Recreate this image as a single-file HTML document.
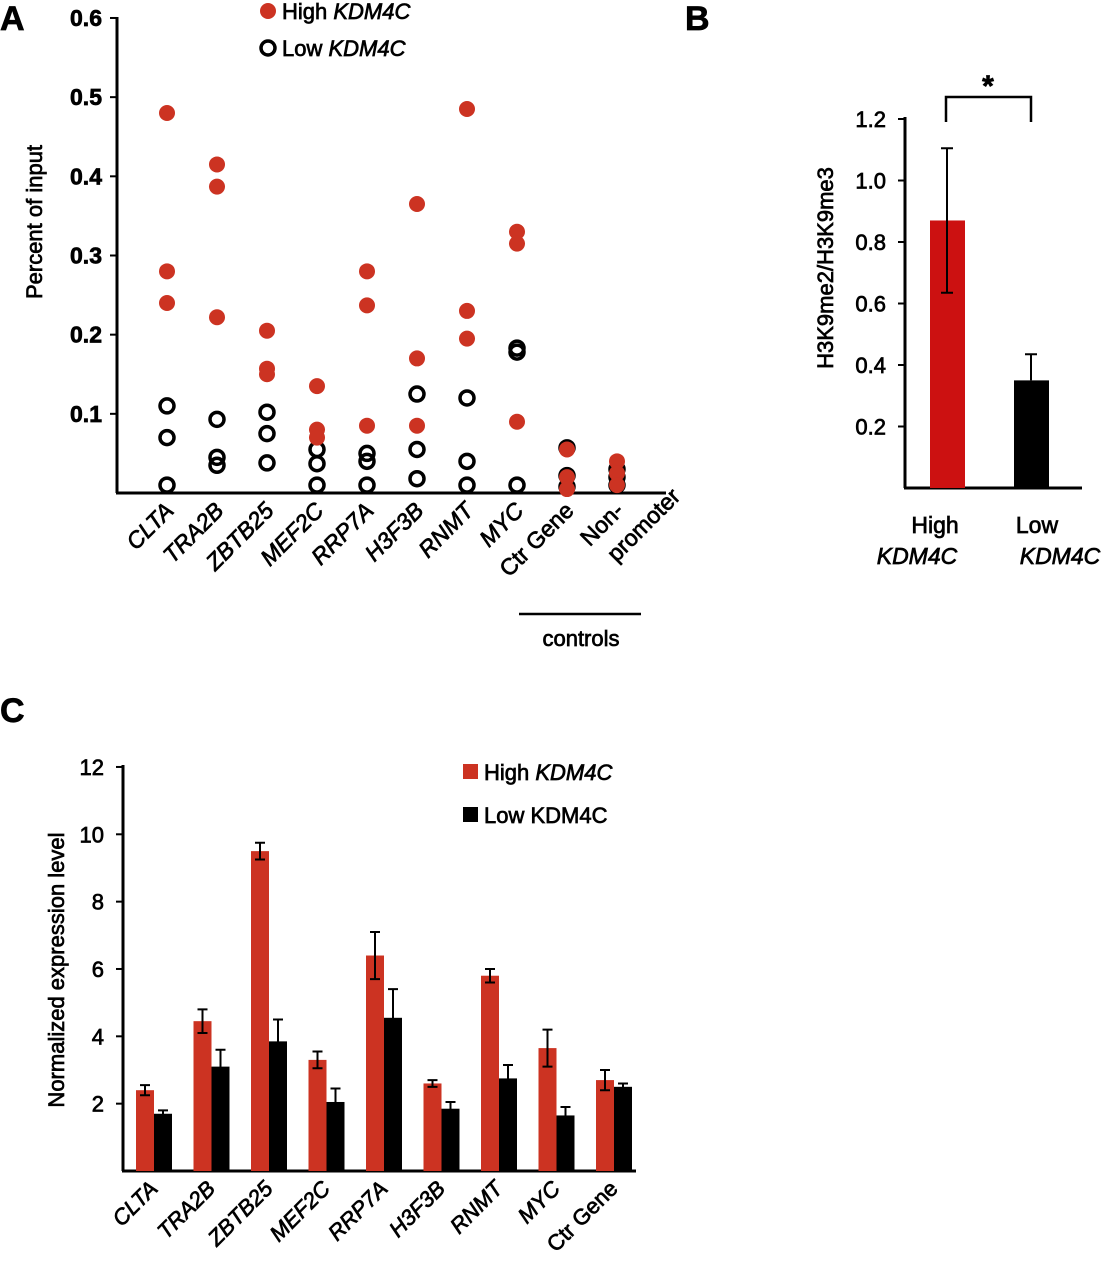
<!DOCTYPE html>
<html><head><meta charset="utf-8"><style>
body{margin:0;background:#fff}
svg{display:block;font-family:"Liberation Sans",Arial,sans-serif}
svg text{stroke:#000;stroke-width:0.7px}
</style></head><body>
<svg id="s" width="1106" height="1280" viewBox="0 0 1106 1280">
<g font-weight="bold" font-size="34">
<text x="0" y="30">A</text>
<text x="685" y="30">B</text>
<text x="0" y="722">C</text>
</g>
<g id="A"></g><g id="B"></g><g id="C"></g>
</svg>
<script>
const NS="http://www.w3.org/2000/svg";
function mk(p,t,a,txt){const e=document.createElementNS(NS,t);for(const k in a)e.setAttribute(k,a[k]);if(txt!==undefined)e.textContent=txt;p.appendChild(e);return e;}
// Panel A data
const aCats=["CLTA","TRA2B","ZBTB25","MEF2C","RRP7A","H3F3B","RNMT","MYC","Ctr Gene","Non-promoter"];
const aHigh=[[0.48,0.28,0.24],[0.415,0.387,0.222],[0.205,0.157,0.15],[0.135,0.08,0.07],[0.28,0.237,0.085],[0.365,0.17,0.085],[0.485,0.23,0.195],[0.33,0.315,0.09],[0.055,0.02,0.005],[0.04,0.025,0.01]];
const aLow=[[0.11,0.07,0.01],[0.093,0.045,0.035],[0.102,0.075,0.038],[0.055,0.037,0.01],[0.05,0.04,0.01],[0.125,0.055,0.018],[0.12,0.04,0.01],[0.183,0.178,0.01],[0.057,0.022,0.008],[0.03,0.02,0.01]];
const aTicks=["0.1","0.2","0.3","0.4","0.5","0.6"];
// Panel B data
const bCats=["High","Low"];
const bVals=[0.87,0.35];
const bErr=[0.235,0.085];
const bTicks=["0.2","0.4","0.6","0.8","1.0","1.2"];
// Panel C data
const cCats=["CLTA","TRA2B","ZBTB25","MEF2C","RRP7A","H3F3B","RNMT","MYC","Ctr Gene"];
const cHigh=[2.4,4.45,9.5,3.3,6.4,2.6,5.8,3.65,2.7];
const cHighErr=[0.15,0.35,0.25,0.25,0.7,0.1,0.2,0.55,0.3];
const cLow=[1.7,3.1,3.85,2.05,4.55,1.85,2.75,1.65,2.5];
const cLowErr=[0.1,0.5,0.65,0.4,0.85,0.2,0.4,0.25,0.1];
const cTicks=["2","4","6","8","10","12"];
const RED="#cc3322";

// ---- Panel A
(function(){
const g=document.getElementById("A");
const y=v=>493-v*791.7, x=i=>167+i*50;
mk(g,"line",{x1:117,y1:17,x2:117,y2:493,stroke:"#000","stroke-width":3,});
mk(g,"line",{x1:116,y1:493,x2:666,y2:493,stroke:"#000","stroke-width":3,});
aTicks.forEach(t=>{const v=+t;mk(g,"line",{x1:110,x2:117,y1:y(v),y2:y(v),stroke:"#000","stroke-width":2});
 const e=mk(g,"text",{x:102,y:y(v)+8,"text-anchor":"end","font-size":23,"font-weight":"bold"},t);});
const yt=mk(g,"text",{transform:"translate(42,222) rotate(-90)","text-anchor":"middle","font-size":22},"Percent of input");

aCats.forEach((c,i)=>{
 aLow[i].forEach(v=>{const e=mk(g,"circle",{cx:x(i),cy:y(v),r:7,fill:"none",stroke:"#000","stroke-width":3.5});});
 aHigh[i].forEach(v=>{const e=mk(g,"circle",{cx:x(i),cy:y(v),r:8,fill:RED});});
 const it=i<8?"italic":"normal";
 if(c==="Non-promoter"){
  const t=mk(g,"text",{transform:`translate(${x(i)+8},512) rotate(-45)`,"text-anchor":"end","font-size":23,"font-style":it});
  mk(t,"tspan",{x:0,dy:0},"Non-");mk(t,"tspan",{x:50,dy:30},"promoter");
  
 } else {
  const t=mk(g,"text",{transform:`translate(${x(i)+8},512) rotate(-45)`,"text-anchor":"end","font-size":23,"font-style":it},c);
  
 }
});
mk(g,"line",{x1:519,x2:641,y1:614,y2:614,stroke:"#000","stroke-width":2.5,});
mk(g,"text",{x:581,y:646,"text-anchor":"middle","font-size":22,},"controls");
mk(g,"circle",{cx:268,cy:11,r:8,fill:RED,});
const l1=mk(g,"text",{x:282,y:19,"font-size":22,},"High ");mk(l1,"tspan",{"font-style":"italic"},"KDM4C");
mk(g,"circle",{cx:268,cy:48,r:7,fill:"none",stroke:"#000","stroke-width":3.5,});
const l2=mk(g,"text",{x:282,y:56,"font-size":22,},"Low ");mk(l2,"tspan",{"font-style":"italic"},"KDM4C");
})();

// ---- Panel B
(function(){
const g=document.getElementById("B");
const y=v=>488-v*307.5, x=i=>947+i*84;
const lblX=[935,1037], geneX=[917,1060];
mk(g,"line",{x1:905,y1:117,x2:905,y2:488,stroke:"#000","stroke-width":3,});
mk(g,"line",{x1:904,y1:488,x2:1082,y2:488,stroke:"#000","stroke-width":3,});
bTicks.forEach(t=>{const v=+t;mk(g,"line",{x1:898,x2:905,y1:y(v),y2:y(v),stroke:"#000","stroke-width":2});
 const e=mk(g,"text",{x:886,y:y(v)+8,"text-anchor":"end","font-size":22},t);});
const yt=mk(g,"text",{transform:"translate(833,268) rotate(-90)","text-anchor":"middle","font-size":22},"H3K9me2/H3K9me3");

bCats.forEach((c,i)=>{
 const b=mk(g,"rect",{x:x(i)-17,y:y(bVals[i]),width:35,height:488-y(bVals[i]),fill:i?"#000":"#cc1111"});
 
 const lo=i===0?bVals[i]-bErr[i]:bVals[i];
 const e=mk(g,"path",{d:`M${x(i)},${y(lo)}V${y(bVals[i]+bErr[i])}M${x(i)-6},${y(bVals[i]+bErr[i])}h12`+(i===0?`M${x(i)-6},${y(lo)}h12`:""),stroke:"#000","stroke-width":2,fill:"none"});
 
 const t=mk(g,"text",{x:lblX[i],y:533,"text-anchor":"middle","font-size":23},c);
 
 const t2=mk(g,"text",{x:geneX[i],y:564,"text-anchor":"middle","font-size":23,"font-style":"italic"},"KDM4C");
 
});
mk(g,"path",{d:"M946,122V97H1031V122",stroke:"#000","stroke-width":2.5,fill:"none",});
mk(g,"text",{x:988,y:96,"text-anchor":"middle","font-size":30,"font-weight":"bold",},"*");
})();

// ---- Panel C
(function(){
const g=document.getElementById("C");
const y=v=>1171-v*33.67, x=i=>145+i*57.5;
mk(g,"line",{x1:123,y1:765,x2:123,y2:1171,stroke:"#000","stroke-width":3,});
mk(g,"line",{x1:122,y1:1171,x2:636,y2:1171,stroke:"#000","stroke-width":3,});
cTicks.forEach(t=>{const v=+t;mk(g,"line",{x1:116,x2:123,y1:y(v),y2:y(v),stroke:"#000","stroke-width":2});
 const e=mk(g,"text",{x:104,y:y(v)+8,"text-anchor":"end","font-size":22},t);});
const yt=mk(g,"text",{transform:"translate(64,970) rotate(-90)","text-anchor":"middle","font-size":22},"Normalized expression level");

function bar(cx,v,err,col,name){
 const b=mk(g,"rect",{x:cx-9,y:y(v),width:18,height:1171-y(v),fill:col});
 
 const e=mk(g,"path",{d:`M${cx},${y(v-err)}V${y(v+err)}M${cx-5},${y(v+err)}h10M${cx-5},${y(v-err)}h10`,stroke:"#000","stroke-width":2,fill:"none"});
 
}
cCats.forEach((c,i)=>{
 bar(x(i),cHigh[i],cHighErr[i],RED,"bar-high-"+i);
 bar(x(i)+18,cLow[i],cLowErr[i],"#000","bar-low-"+i);
 const t=mk(g,"text",{transform:`translate(${x(i)+14},1190) rotate(-45)`,"text-anchor":"end","font-size":22,"font-style":i<8?"italic":"normal"},c);
 
});
mk(g,"rect",{x:463,y:764,width:15,height:15,fill:RED,});
const l1=mk(g,"text",{x:484,y:780,"font-size":22,},"High ");mk(l1,"tspan",{"font-style":"italic"},"KDM4C");
mk(g,"rect",{x:463,y:807,width:15,height:15,fill:"#000",});
mk(g,"text",{x:484,y:823,"font-size":22,},"Low KDM4C");
})();
</script>
</body></html>
